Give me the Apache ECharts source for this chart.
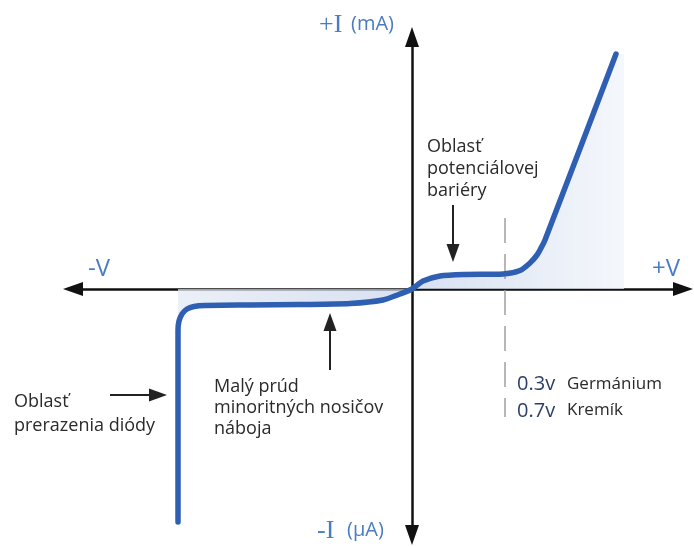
<!DOCTYPE html>
<html>
<head>
    <meta charset="utf-8">
    <title>VA charakteristika diódy</title>
    <script src="https://cdn.jsdelivr.net/npm/echarts@6/dist/echarts.min.js"></script>
</head>
<body style="margin:0;background:#fff">
    <div id="main" style="width: 694px;height:547px;"></div>
    <script type="text/javascript">
    // VA krivka diody (schematicke jednotky, 1 jednotka = 10 px)
    var curveV = [-23.4, -23.4, -23.3, -23.0, -22.5, -21.8, -20.7, -16.2, -11.2, -6.2, -2.9, -1.2, 0, 1.1, 2.8, 5.3, 9.1, 10.8, 11.8, 12.5, 12.9, 13.3, 20.4];
    var curveI = [-23.3, -4.1, -3.2, -2.5, -2.0, -1.75, -1.65, -1.6, -1.55, -1.45, -1.1, -0.5, 0, 0.8, 1.3, 1.45, 1.5, 1.85, 2.6, 3.4, 4.1, 4.9, 23.5];
    var shadeRightEnd = 21.2;   // pravy okraj vyplne
    var kneeV = 9.3;            // prahove napatie (ciarkovana ciara)

    var curve = curveV.map(function (v, i) { return [v, curveI[i]]; });
    var leftShade = curve.filter(function (p, i) { return i > 0 && p[0] <= 0; });
    var rightShade = curve.filter(function (p) { return p[0] >= 0; });
    rightShade.push([shadeRightEnd, curveI[curveI.length - 1]]);

    var myChart = echarts.init(document.getElementById('main'));

    var txt = '#2a2a2a';
    var blue = '#4a7cc4';
    var font = '"Open Sans", "Noto Sans", sans-serif';

    var option = {
        animation: false,
        grid: { left: 73, right: 11, top: 37, bottom: 12 },
        xAxis: {
            type: 'value', min: -33.9, max: 27.1,
            axisLine: { lineStyle: { color: '#111', width: 2.5 }, symbol: ['triangle', 'triangle'], symbolSize: [14, 20] },
            axisTick: { show: false }, axisLabel: { show: false }, splitLine: { show: false }
        },
        yAxis: {
            type: 'value', min: -24.6, max: 25.2,
            axisLine: { lineStyle: { color: '#111', width: 2.5 }, symbol: ['triangle', 'triangle'], symbolSize: [14, 20] },
            axisTick: { show: false }, axisLabel: { show: false }, splitLine: { show: false }
        },
        series: [
            {
                type: 'line', data: leftShade, showSymbol: false, z: 1,
                lineStyle: { width: 0 },
                areaStyle: {
                    color: new echarts.graphic.LinearGradient(0, 0, 1, 0, [
                        { offset: 0, color: '#e2e8f3' }, { offset: 1, color: '#c6d3ea' }
                    ])
                }
            },
            {
                type: 'line', data: rightShade, showSymbol: false, z: 1,
                lineStyle: { width: 0 },
                areaStyle: {
                    color: new echarts.graphic.LinearGradient(0, 0, 1, 0, [
                        { offset: 0, color: '#c6d3ea' }, { offset: 1, color: '#eff3f9' }
                    ])
                }
            },
            {
                type: 'line', data: curve, showSymbol: false, smooth: 0.25, z: 5,
                lineStyle: { color: '#2f5fb3', width: 5.5, cap: 'round', join: 'round' },
                markLine: {
                    silent: true, animation: false,
                    label: { show: false },
                    data: [
                        [{ coord: [kneeV, 7.1], symbol: 'none', lineStyle: { color: '#a0a0a0', width: 1.5, type: [25, 11] } },
                         { coord: [kneeV, -12.8], symbol: 'none' }],
                        [{ coord: [4.1, 8.4], symbol: 'none', lineStyle: { color: '#222', width: 2, type: 'solid' } },
                         { coord: [4.1, 3.6], symbol: 'triangle', symbolSize: [13, 18] }],
                        [{ coord: [-8.2, -8.1], symbol: 'none', lineStyle: { color: '#222', width: 2, type: 'solid' } },
                         { coord: [-8.2, -3.3], symbol: 'triangle', symbolSize: [13, 18] }],
                        [{ coord: [-30.2, -10.6], symbol: 'none', lineStyle: { color: '#222', width: 2, type: 'solid' } },
                         { coord: [-25.4, -10.6], symbol: 'triangle', symbolSize: [13, 18] }]
                    ]
                }
            }
        ],
        graphic: [
            { type: 'text', left: 319, top: 12, style: { text: '+I', font: '26px "Liberation Serif", serif', fill: blue } },
            { type: 'text', left: 351, top: 14, style: { text: '(mA)', font: '20px ' + font, fill: blue } },
            { type: 'text', left: 317, top: 518, style: { text: '-I', font: '26px "Liberation Serif", serif', fill: blue } },
            { type: 'text', left: 347, top: 520, style: { text: '(\u03bcA)', font: '20px ' + font, fill: blue } },
            { type: 'text', left: 88, top: 257, style: { text: '-V', font: '24px ' + font, fill: blue } },
            { type: 'text', left: 652, top: 257, style: { text: '+V', font: '24px ' + font, fill: blue } },
            { type: 'text', left: 427, top: 136, style: { text: 'Oblasť\npotenciálovej\nbariéry', font: '18px ' + font, fill: txt, lineHeight: 22 } },
            { type: 'text', left: 214, top: 376, style: { text: 'Malý prúd\nminoritných nosičov\nnáboja', font: '18px ' + font, fill: txt, lineHeight: 21 } },
            { type: 'text', left: 14, top: 390, style: { text: 'Oblasť\nprerazenia diódy', font: '18px ' + font, fill: txt, lineHeight: 24 } },
            { type: 'text', left: 517, top: 374, style: { text: '0.3v', font: '20px ' + font, fill: '#2b3f66' } },
            { type: 'text', left: 517, top: 401, style: { text: '0.7v', font: '20px ' + font, fill: '#2b3f66' } },
            { type: 'text', left: 567, top: 376, style: { text: 'Germánium', font: '17px ' + font, fill: txt } },
            { type: 'text', left: 567, top: 402, style: { text: 'Kremík', font: '17px ' + font, fill: txt } }
        ]
    };

    myChart.setOption(option);
    </script>
</body>
</html>
